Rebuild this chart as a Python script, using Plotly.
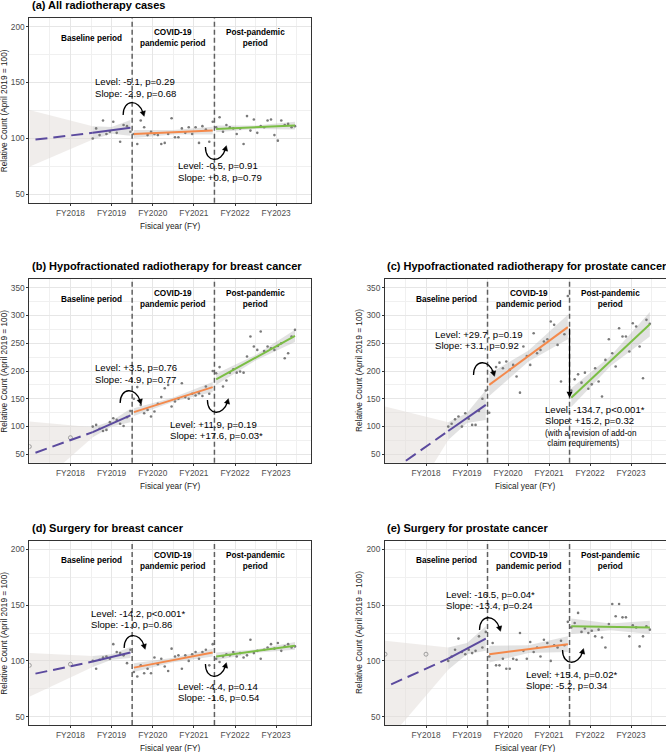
import numpy as np
import plotly.graph_objects as go

W, H = 666, 752
FONT = "Liberation Sans, Arial, sans-serif"

# ---------------- data ----------------
FY_TICKS = [2018.5, 2019.5, 2020.5, 2021.5, 2022.5, 2023.5]
FY_LABELS = ["FY2018", "FY2019", "FY2020", "FY2021", "FY2022", "FY2023"]
BREAKS = [2020.0, 2022.0]
PERIOD_LABELS = ["Baseline period", "COVID-19<br>pandemic period", "Post-pandemic<br>period"]
PERIOD_X = [2019.0, 2021.0, 2023.0]
DASH_X0 = 2017.65

TITLES = ["(a) All radiotherapy cases",
          "(b) Hypofractionated radiotherapy for breast cancer",
          "(c) Hypofractionated radiotherapy for prostate cancer",
          "(d) Surgery for breast cancer",
          "(e) Surgery for prostate cancer"]

# monthly relative counts (April 2019 = 100), Apr..Mar
a_base = [100, 109, 103, 116, 104, 106, 115, 105, 97, 112, 111, 106]
a_pand = [104, 95, 116, 110, 103, 106, 104, 103, 95, 96, 104, 118,
          101, 101, 109, 105, 110, 104, 110, 96, 111, 108, 97, 115]
a_post = [110, 119, 106, 112, 110, 109, 104, 109, 95, 120, 107, 117,
          105, 111, 110, 116, 117, 103, 98, 116, 112, 113, 110, 111]

b_base = [100, 103, 96, 92, 94, 108, 115, 112, 105, 101, 117, 128]
b_pand = [150, 171, 139, 124, 130, 118, 127, 141, 153, 169, 175, 136,
          145, 150, 178, 153, 150, 159, 156, 160, 155, 172, 159, 200]
b_post = [196, 207, 172, 183, 197, 203, 197, 199, 197, 226, 262, 244,
          238, 271, 236, 244, 241, 238, 245, 250, 223, 232, 262, 274]

c_base = [100, 105, 113, 118, 100, 124, 114, 103, 103, 128, 150, 165]
c_pand = [125, 200, 207, 215, 205, 217, 202, 211, 190, 161, 244, 227,
          211, 268, 232, 238, 253, 257, 289, 283, 247, 181, 266, 335]
c_post = [165, 185, 194, 179, 197, 168, 176, 205, 181, 154, 220, 257,
          232, 208, 277, 262, 262, 235, 286, 280, 244, 187, 292, 285]

d_base = [100, 93, 101, 103, 104, 102, 115, 108, 107, 105, 98, 110]
d_pand = [90, 86, 96, 89, 93, 89, 103, 97, 102, 95, 91, 111,
          104, 105, 93, 105, 100, 106, 108, 102, 108, 110, 96, 115]
d_post = [102, 99, 104, 106, 105, 108, 104, 107, 103, 105, 119, 107,
          109, 102, 110, 112, 115, 111, 116, 109, 113, 115, 112, 113]

e_base = [100, 104, 110, 120, 108, 106, 110, 107, 109, 122, 112, 126]
e_pand = [104, 116, 96, 96, 102, 93, 93, 102, 101, 125, 109, 102,
          117, 108, 112, 104, 119, 116, 100, 114, 112, 118, 114, 135]
e_post = [130, 134, 143, 126, 129, 125, 127, 122, 128, 121, 112, 133,
          151, 140, 151, 139, 139, 122, 132, 130, 113, 122, 131, 128]

# extra early observations (open circles)
b_extra_x, b_extra = [2017.5, 2018.5], [64, 80]
d_extra_x, d_extra = [2017.5, 2018.5], [96, 97]
e_extra_x, e_extra = [2017.5, 2018.5], [106, 106]

# fitted segmented regression lines [start, end]; dash start value
a_fit = dict(dash=99, base=[105, 109.5], pand=[104, 107], post=[108.5, 111.5])
b_fit = dict(dash=53, base=[90, 120], pand=[126, 171], post=[185, 263])
c_fit = dict(dash=20, base=[92, 139], pand=[175, 279], post=[152, 284])
d_fit = dict(dash=88.6, base=[99.5, 107.5], pand=[94, 107.5], post=[104, 113.5])
e_fit = dict(dash=79, base=[102, 120], pand=[106, 115], post=[131, 130])

# 95% CI half widths [start, middle, end]; extrapolation band [upper, lower] at left edge
a_ci = dict(base=[6, 3, 7], pand=[3.5, 2, 3.5], post=[3, 1.5, 3.5], edge=[125.5, 74.7])
b_ci = dict(base=[9, 5, 12], pand=[7, 4, 9], post=[10, 5, 11], edge=[109, -20])
c_ci = dict(base=[16, 9, 27], pand=[20, 10, 22], post=[17, 9, 22], edge=[136, -110])
d_ci = dict(base=[5, 2.5, 5], pand=[4, 2, 3.5], post=[3.5, 1.5, 3.5], edge=[107, 68])
e_ci = dict(base=[10, 5, 11], pand=[7.5, 3.5, 7], post=[7, 3, 6], edge=[118, 26])

a_text = [["Level: -5.1, p=0.29", "Slope: -2.9, p=0.68"], ["Level: -0.5, p=0.91", "Slope: +0.8, p=0.79"]]
b_text = [["Level: +3.5, p=0.76", "Slope: -4.9, p=0.77"], ["Level: +11.9, p=0.19", "Slope: +17.6, p=0.03*"]]
c_text = [["Level: +29.7, p=0.19", "Slope: +3.1, p=0.92"], ["Level: -134.7, p<0.001*", "Slope: +15.2, p=0.32"]]
c_note = ["(with a revision of add-on", " claim requirements)"]
d_text = [["Level: -14.2, p<0.001*", "Slope: -1.0, p=0.86"], ["Level: -4.4, p=0.14", "Slope: -1.6, p=0.54"]]
e_text = [["Level: -16.5, p=0.04*", "Slope: -13.4, p=0.24"], ["Level: +15.4, p=0.02*", "Slope: -5.2, p=0.34"]]

# ---------------- styling / geometry ----------------
PURPLE = "#5B4A9E"
ORANGE = "#F4894B"
GREEN = "#7BBE45"
BAND = "rgba(185,185,185,0.42)"
EXT_BAND = "rgba(226,220,216,0.5)"
PT = "#7a7a7a"
X_RANGE = [2017.5, 2024.34]

L = dict(x0=29.3, x1=310.7)
R = dict(x0=385.0, x1=665.5)
GEOM = {
    'a': dict(**L, y0=18.3, y1=202.7, yr=[42.5, 207.5], yt=[50, 100, 150, 200], ym=[75, 125, 175],
              ytitle_x=3.8, title_x=30, txt=[(93.3, 81.7), (176, 165.7)],
              arrows=[(121, 1), (92.3, 1)]),
    'b': dict(**L, y0=279.3, y1=462.7, yr=[35, 365], yt=list(range(50, 351, 50)), ym=list(range(75, 326, 50)),
              ytitle_x=3.8, title_x=30, txt=[(93.3, 367.7), (168.3, 424)],
              arrows=[(142.4, -2), (147.8, 3)]),
    'c': dict(**R, y0=279.3, y1=462.7, yr=[35, 365], yt=list(range(50, 351, 50)), ym=list(range(75, 326, 50)),
              ytitle_x=359, title_x=385, txt=[(433.3, 334), (542.7, 409.3)],
              arrows=[(192.8, -4), None]),
    'd': dict(**L, y0=540.9, y1=725.1, yr=[42.5, 207.5], yt=[50, 100, 150, 200], ym=[75, 125, 175],
              ytitle_x=3.8, title_x=30, txt=[(89.3, 613.3), (176, 686)],
              arrows=[(111.6, 2), (97.2, 1)]),
    'e': dict(**R, y0=540.9, y1=725.1, yr=[42.5, 207.5], yt=[50, 100, 150, 200], ym=[75, 125, 175],
              ytitle_x=359, title_x=385, txt=[(444.3, 594.3), (524.3, 674.3)],
              arrows=[(127.7, 2), (109.8, 3)]),
}

DATA = {
    'a': (a_base, a_pand, a_post, a_fit, a_ci, a_text, None, None),
    'b': (b_base, b_pand, b_post, b_fit, b_ci, b_text, b_extra_x, b_extra),
    'c': (c_base, c_pand, c_post, c_fit, c_ci, c_text, None, None),
    'd': (d_base, d_pand, d_post, d_fit, d_ci, d_text, d_extra_x, d_extra),
    'e': (e_base, e_pand, e_post, e_fit, e_ci, e_text, e_extra_x, e_extra),
}


def fx(px):
    return px / W


def fy(py):
    return 1 - py / H


def month_x(start, n):
    return [start + (m + 0.5) / 12 for m in range(n)]


fig = go.Figure()
layout = {}
shapes = []
annotations = []


def curved_arrow(xref, yref, xa, ya, above, dx):
    s = 1 if above else -1
    S = (-10 + dx, 0.0)
    C1 = (-10 + dx, 16.0 * s)
    C2 = (6 + dx, 16.0 * s)
    E = (10 + dx, 2.0 * s)
    path = f"M {S[0]},{S[1]} C {C1[0]},{C1[1]} {C2[0]},{C2[1]} {E[0]},{E[1]}"
    common = dict(xref=xref, yref=yref, xsizemode='pixel', ysizemode='pixel', xanchor=xa, yanchor=ya)
    shapes.append(dict(type='path', path=path, line=dict(color='black', width=1.3), **common))
    u = np.array([E[0] - C2[0], E[1] - C2[1]])
    u = u / np.linalg.norm(u)
    p = np.array([-u[1], u[0]])
    e = np.array(E)
    tip = e + u * 3.5
    b = e - u * 1.5
    p1 = b + p * 2.7
    p2 = b - p * 2.7
    hp = f"M {tip[0]:.2f},{tip[1]:.2f} L {p1[0]:.2f},{p1[1]:.2f} L {p2[0]:.2f},{p2[1]:.2f} Z"
    shapes.append(dict(type='path', path=hp, fillcolor='black', line=dict(color='black', width=0.5), **common))


for i, key in enumerate('abcde'):
    n = '' if i == 0 else str(i + 1)
    xa, ya = 'x' + n, 'y' + n
    g = GEOM[key]
    base, pand, post, fit, ci, texts, ex_x, ex_y = DATA[key]

    layout['xaxis' + n] = dict(
        domain=[fx(g['x0']), fx(g['x1'])], anchor=ya, range=X_RANGE,
        tickvals=FY_TICKS, ticktext=FY_LABELS, tickfont=dict(size=8.3, color="#4D4D4D", family=FONT),
        showgrid=True, gridcolor="#E6E6E6", gridwidth=0.8,
        minor=dict(tickvals=[2018, 2019, 2020, 2021, 2022, 2023, 2024], showgrid=True,
                   gridcolor="#F0F0F0", gridwidth=0.6, ticks=""),
        showline=True, mirror=True, linecolor="#333333", linewidth=1,
        ticks="outside", ticklen=2, tickcolor="#333333", tickwidth=0.8, zeroline=False, fixedrange=True)
    layout['yaxis' + n] = dict(
        domain=[fy(g['y1']), fy(g['y0'])], anchor=xa, range=g['yr'],
        tickvals=g['yt'], tickfont=dict(size=8.3, color="#4D4D4D", family=FONT),
        showgrid=True, gridcolor="#E6E6E6", gridwidth=0.8,
        minor=dict(tickvals=g['ym'], showgrid=True, gridcolor="#F0F0F0", gridwidth=0.6, ticks=""),
        showline=True, mirror=True, linecolor="#333333", linewidth=1,
        ticks="outside", ticklen=2, tickcolor="#333333", tickwidth=0.8, zeroline=False, fixedrange=True)

    bx = month_x(2019, len(base))
    px_ = month_x(2020, len(pand))
    qx = month_x(2022, len(post))

    # extrapolation band
    ex_xs = [X_RANGE[0], bx[0]]
    up = [ci['edge'][0], fit['base'][0] + ci['base'][0]]
    lo = [ci['edge'][1], fit['base'][0] - ci['base'][0]]
    fig.add_trace(go.Scatter(x=ex_xs + ex_xs[::-1], y=up + lo[::-1], fill='toself', fillcolor=EXT_BAND,
                             line=dict(width=0), mode='lines', hoverinfo='skip', showlegend=False,
                             xaxis=xa, yaxis=ya))
    # CI bands
    for seg, xs in (('base', bx), ('pand', px_), ('post', qx)):
        f0, f1 = fit[seg]
        xs3 = [xs[0], (xs[0] + xs[-1]) / 2, xs[-1]]
        c3 = [f0, (f0 + f1) / 2, f1]
        u3 = [c + h for c, h in zip(c3, ci[seg])]
        l3 = [c - h for c, h in zip(c3, ci[seg])]
        fig.add_trace(go.Scatter(x=xs3 + xs3[::-1], y=u3 + l3[::-1], fill='toself', fillcolor=BAND,
                                 line=dict(width=0), mode='lines', hoverinfo='skip', showlegend=False,
                                 xaxis=xa, yaxis=ya))
    # points
    fig.add_trace(go.Scatter(x=bx + px_ + qx, y=base + pand + post, mode='markers',
                             marker=dict(size=2.6, color=PT), showlegend=False, xaxis=xa, yaxis=ya))
    if ex_x is not None:
        fig.add_trace(go.Scatter(x=ex_x, y=ex_y, mode='markers',
                                 marker=dict(size=4, color='rgba(0,0,0,0)', line=dict(color="#8a8a8a", width=0.8)),
                                 showlegend=False, xaxis=xa, yaxis=ya))
    # fitted lines
    fig.add_trace(go.Scatter(x=[DASH_X0, bx[0]], y=[fit['dash'], fit['base'][0]], mode='lines',
                             line=dict(color=PURPLE, width=2, dash="12px,6px"), showlegend=False,
                             xaxis=xa, yaxis=ya))
    for seg, xs, col in (('base', bx, PURPLE), ('pand', px_, ORANGE), ('post', qx, GREEN)):
        fig.add_trace(go.Scatter(x=[xs[0], xs[-1]], y=fit[seg], mode='lines',
                                 line=dict(color=col, width=2), showlegend=False, xaxis=xa, yaxis=ya))

    # break lines
    for bk in BREAKS:
        shapes.append(dict(type='line', xref=xa, yref=ya + ' domain', x0=bk, x1=bk, y0=0, y1=1,
                           line=dict(color="#606060", width=1.5, dash="5px,3px")))

    # period labels
    for lab, x in zip(PERIOD_LABELS, PERIOD_X):
        annotations.append(dict(text="<b>" + lab + "</b>", x=x, xref=xa, y=1 - 20 / (g['y1'] - g['y0']),
                                yref=ya + ' domain', showarrow=False, xanchor='center', yanchor='middle',
                                font=dict(size=8.2, color="black", family=FONT)))

    # title
    annotations.append(dict(text="<b>" + TITLES[i] + "</b>", x=fx(g['title_x']), y=fy(g['y0'] - 13.3),
                            xref='paper', yref='paper', showarrow=False, xanchor='left', yanchor='middle',
                            font=dict(size=11, color="black", family=FONT)))
    # axis titles
    annotations.append(dict(text="Fisical year (FY)", x=fx((g['x0'] + g['x1']) / 2), y=fy(g['y1'] + 23),
                            xref='paper', yref='paper', showarrow=False, xanchor='center', yanchor='middle',
                            font=dict(size=8.3, color="#1a1a1a", family=FONT)))
    annotations.append(dict(text="Relative Count (April 2019 = 100)", x=fx(g['ytitle_x']),
                            y=fy((g['y0'] + g['y1']) / 2), xref='paper', yref='paper', showarrow=False,
                            textangle=-90, xanchor='center', yanchor='middle',
                            font=dict(size=8.3, color="#1a1a1a", family=FONT)))
    # Level / slope texts
    for (tx, ty), lines in zip(g['txt'], texts):
        for k, line in enumerate(lines):
            annotations.append(dict(text=line, x=fx(tx), y=fy(ty + 11.6 * k), xref='paper', yref='paper',
                                    showarrow=False, xanchor='left', yanchor='middle',
                                    font=dict(size=9.6, color="black", family=FONT)))
    if key == 'c':
        tx, ty = g['txt'][1]
        for k, line in enumerate(c_note):
            annotations.append(dict(text=line.replace(" ", "&nbsp;", 1) if line.startswith(" ") else line,
                                    x=fx(tx), y=fy(ty + 24.3 + 10.2 * k), xref='paper', yref='paper',
                                    showarrow=False, xanchor='left', yanchor='middle',
                                    font=dict(size=8.2, color="black", family=FONT)))
        # vertical level-change arrow
        annotations.append(dict(text="", x=BREAKS[1], y=fit['post'][0], xref=xa, yref=ya,
                                ax=BREAKS[1], ay=fit['pand'][1], axref=xa, ayref=ya, showarrow=True,
                                arrowhead=2, arrowsize=1, arrowwidth=1.2, arrowcolor="black"))
    # curved arrows
    for (arr, bk, above) in zip(g['arrows'], BREAKS, (True, False)):
        if arr is None:
            continue
        curved_arrow(xa, ya, bk, arr[0], above, arr[1])

layout.update(dict(width=W, height=H, margin=dict(l=0, r=0, t=0, b=0), autosize=False,
                   paper_bgcolor="white", plot_bgcolor="white", showlegend=False,
                   shapes=shapes, annotations=annotations, font=dict(family=FONT)))
fig.update_layout(**layout)
fig.write_html("out.html")
